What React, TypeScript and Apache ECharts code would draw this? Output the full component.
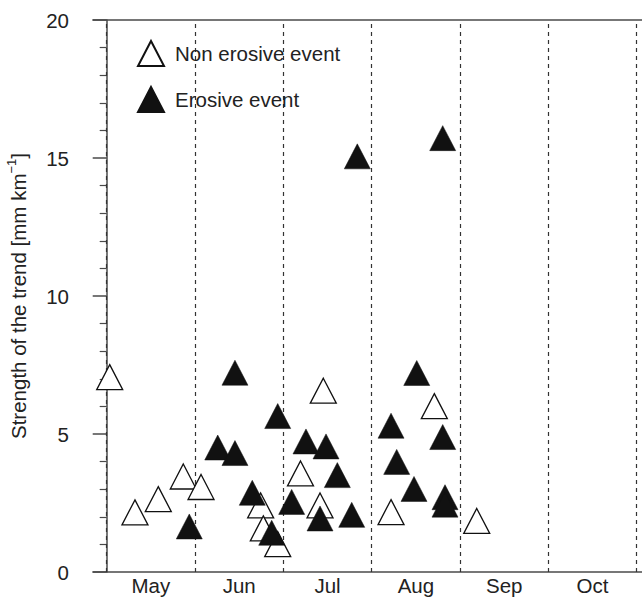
import React, { useEffect, useRef } from 'react';
import * as echarts from 'echarts';

// x is measured in months from 1 May (0 = 1 May, 1 = 1 Jun, ...)
const months = ['May', 'Jun', 'Jul', 'Aug', 'Sep', 'Oct'];
const monthCenters = [0.5, 1.5, 2.5, 3.5, 4.5, 5.5];
const monthBoundaries = [0, 1, 2, 3, 4, 5, 6];
const yTicks = [0, 5, 10, 15, 20];

const nonErosiveX = [0.034, 0.32, 0.584, 0.867, 1.068, 1.743, 1.773, 1.936, 2.194, 2.415, 2.452, 3.219, 3.709, 4.189];
const nonErosiveY = [7.06, 2.16, 2.64, 3.46, 3.08, 2.41, 1.58, 1.01, 3.57, 2.41, 6.57, 2.17, 6.01, 1.85];

const erosiveX = [0.935, 1.257, 1.452, 1.452, 1.648, 1.868, 1.936, 2.094, 2.256, 2.483, 2.611, 2.415, 2.774, 2.837, 3.219, 3.283, 3.479, 3.51, 3.804, 3.804, 3.83, 3.83];
const erosiveY = [1.65, 4.51, 7.22, 4.31, 2.87, 1.42, 5.65, 2.54, 4.73, 4.55, 3.51, 1.94, 2.07, 15.06, 5.3, 3.99, 3.01, 7.21, 15.72, 4.89, 2.71, 2.44];

const FONT = '"Liberation Sans", Arial, Helvetica, sans-serif';
const FS = 20.5;

export default function App() {
  const ref = useRef<HTMLDivElement>(null);
  useEffect(() => {
    document.body.style.margin = '0';
    if (!ref.current) return;
    const chart = echarts.init(ref.current, undefined, { renderer: 'svg' });
    const axisColor = '#4a4a4a';
    chart.setOption({
      animation: false,
      textStyle: { fontFamily: FONT },
      grid: { left: 93, right: 0, top: 20, bottom: 26, containLabel: false, outerBoundsMode: 'none' },
      legend: {
        orient: 'vertical',
        left: 137,
        top: 40,
        itemWidth: 26,
        itemHeight: 25,
        itemGap: 19,
        padding: 0,
        textStyle: { fontSize: FS, color: '#222', fontFamily: FONT, padding: [0, 0, 0, 6] },
        data: ['Non erosive event', 'Erosive event'],
      },
      xAxis: [
        {
          type: 'value',
          min: -0.155,
          max: 6.06,
          position: 'bottom',
          axisLine: { show: true, onZero: false, lineStyle: { color: axisColor, width: 1.5 } },
          axisTick: { show: false },
          splitLine: { show: false },
          axisLabel: {
            customValues: monthCenters,
            formatter: (v: number) => months[Math.round(v - 0.5)] ?? '',
            fontSize: FS,
            color: '#222',
            margin: 3,
            fontFamily: FONT,
          },
        },
        {
          type: 'value',
          min: -0.155,
          max: 6.06,
          position: 'top',
          axisLine: { show: true, onZero: false, lineStyle: { color: axisColor, width: 1.5 } },
          axisTick: { show: false },
          axisLabel: { show: false },
          splitLine: { show: false },
        },
      ],
      yAxis: {
        type: 'value',
        min: yTicks[0],
        max: yTicks[yTicks.length - 1],
        interval: 5,
        name: 'Strength of the trend [mm km{sup|−1}]',
        nameLocation: 'middle',
        nameGap: 62,
        nameTextStyle: {
          fontSize: FS,
          color: '#222',
          fontFamily: FONT,
          lineHeight: 26,
          rich: {
            sup: { fontSize: 13, lineHeight: 13, verticalAlign: 'top', color: '#222', fontFamily: FONT },
          },
        },
        axisLine: { show: true, lineStyle: { color: axisColor, width: 1.5 } },
        axisTick: { show: true, length: 14, lineStyle: { color: axisColor, width: 1.5 } },
        minorTick: { show: true, splitNumber: 5, length: 7, lineStyle: { color: axisColor, width: 1.2 } },
        splitLine: { show: false },
        axisLabel: { fontSize: FS, color: '#222', margin: 24, fontFamily: FONT },
      },
      series: [
        {
          name: 'Non erosive event',
          type: 'scatter',
          symbol: 'triangle',
          symbolSize: [26, 25],
          itemStyle: { color: '#ffffff', borderColor: '#111', borderWidth: 1.3, opacity: 1 },
          data: nonErosiveX.map((x, i) => [x, nonErosiveY[i]]),
          z: 3,
          markLine: {
            silent: true,
            symbol: ['none', 'none'],
            label: { show: false },
            lineStyle: { type: [4, 4], color: '#333', width: 1.2 },
            data: monthBoundaries.map((b) => ({ xAxis: b })),
            z: 1,
          },
        },
        {
          name: 'Erosive event',
          type: 'scatter',
          symbol: 'triangle',
          symbolSize: [26, 25],
          itemStyle: { color: '#111', borderColor: '#111', borderWidth: 0.5, opacity: 1 },
          data: erosiveX.map((x, i) => [x, erosiveY[i]]),
          z: 4,
        },
      ],
    });
    return () => chart.dispose();
  }, []);
  return <div ref={ref} style={{ width: 642, height: 598 }} />;
}
